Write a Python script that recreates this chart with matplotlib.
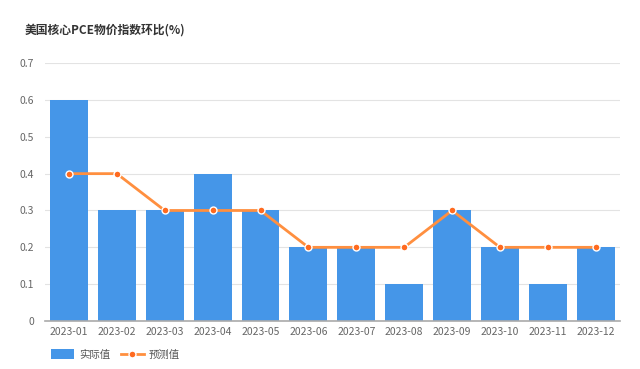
import matplotlib.pyplot as plt
import numpy as np

plt.rcParams['font.family'] = ['Noto Sans CJK SC', 'DejaVu Sans']

months = ['2023-01', '2023-02', '2023-03', '2023-04', '2023-05', '2023-06',
          '2023-07', '2023-08', '2023-09', '2023-10', '2023-11', '2023-12']
actual = [0.6, 0.3, 0.3, 0.4, 0.3, 0.2, 0.2, 0.1, 0.3, 0.2, 0.1, 0.2]
forecast = [0.4, 0.4, 0.3, 0.3, 0.3, 0.2, 0.2, 0.2, 0.3, 0.2, 0.2, 0.2]
yticks = [0, 0.1, 0.2, 0.3, 0.4, 0.5, 0.6, 0.7]

fig = plt.figure(figsize=(6.4, 3.69), dpi=100)
ax = fig.add_axes([0.0703, 0.13, 0.898, 0.699])

x = np.arange(len(months))
bars = ax.bar(x, actual, width=0.79, color='#4596E8', zorder=2, label='实际值')
line, = ax.plot(x, forecast, color='#FF8F3F', lw=2, zorder=3, marker='o', markersize=5,
                markerfacecolor='#FF6A1F', markeredgecolor='white', markeredgewidth=1,
                label='预测值')

ax.set_xlim(-0.5, len(months) - 0.5)
ax.set_ylim(0, 0.7)
ax.set_yticks(yticks)
ax.set_yticklabels(['0'] + ['%.1f' % v for v in yticks[1:]])
ax.set_xticks(x)
ax.set_xticklabels(months)
ax.tick_params(axis='both', colors='#666666', labelsize=7.5, length=0)
ax.tick_params(axis='x', pad=4)
ax.tick_params(axis='y', pad=8)
ax.grid(axis='y', color='#E3E3E3', lw=0.8, zorder=0)
for s in ['top', 'right', 'left']:
    ax.spines[s].set_visible(False)
ax.spines['bottom'].set_color('#AAAAAA')
ax.spines['bottom'].set_linewidth(1.2)

fig.text(0.039, 0.91, '美国核心PCE物价指数环比(%)', fontsize=8.5, fontweight='bold',
         color='#333333')

leg = fig.legend([bars, line], ['实际值', '预测值'], loc='lower left',
                 bbox_to_anchor=(0.065, 0.0), ncol=2, frameon=False,
                 fontsize=7.5, handlelength=2.2, handleheight=1.0, columnspacing=1.0,
                 handletextpad=0.5)
for t in leg.get_texts():
    t.set_color('#555555')

fig.savefig('out.png', dpi=100)
